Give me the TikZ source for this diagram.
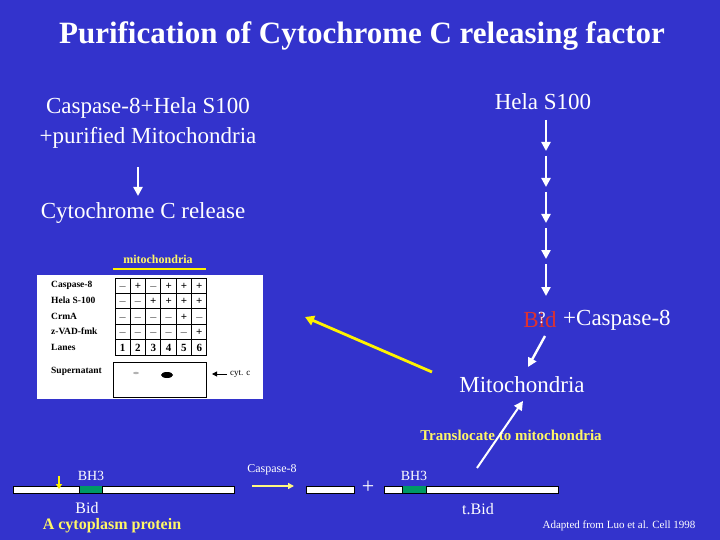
\documentclass[tikz,border=0pt]{standalone}
\usepackage{fontspec}
\setmainfont{Liberation Serif}
\usetikzlibrary{arrows.meta}
\begin{document}
\begin{tikzpicture}[x=1pt,y=-1pt,
  wt/.style={text=white,inner sep=0pt,font=\fontsize{23}{25}\selectfont},
  yt/.style={text=yellow!60!white,inner sep=0pt,font=\bfseries\fontsize{15}{16}\selectfont},
  warr/.style={white,line width=2.4pt,-{Triangle[width=9pt,length=9pt]}},
  gl/.style={inner sep=0pt,font=\bfseries\fontsize{9.5}{10}\selectfont,anchor=west},
  bar/.style={draw=black,fill=white,line width=0.6pt}]
\fill[fill={rgb,255:red,51;green,51;blue,204}] (0,0) rectangle (720,540);
\useasboundingbox (0,0) rectangle (720,540);
\node[text=white,font=\bfseries\fontsize{31}{34}\selectfont,inner sep=0pt] (title) at (362,36) {Purification of Cytochrome C releasing factor};
\node[wt] (l1) at (148,108) {Caspase-8+Hela S100};
\node[wt] (l2) at (148,138) {+purified Mitochondria};
\node[wt] (cr) at (143,213) {Cytochrome C release};
\coordinate (a1) at (138,167); \coordinate (a2) at (138,196);
\draw[warr] (a1) -- (a2);
\node[wt] (hela) at (543,102) {Hela S100};
\foreach \i/\a/\b in {1/120/151,2/156/187,3/192/223,4/228/259,5/264/296}{
  \coordinate (s\i) at (546,\a); \coordinate (e\i) at (546,\b);
  \draw[warr] (s\i) -- (e\i);}
\node[text={rgb,255:red,220;green,50;blue,50},inner sep=0pt,font=\fontsize{23}{25}\selectfont] (bid) at (540,320) {Bid};
\node[text=white,inner sep=0pt,font=\fontsize{17}{18}\selectfont] (q) at (542,318) {?};
\node[wt,anchor=west] (c8) at (563,320) {+Caspase-8};
\node[wt] (mito) at (522,385) {Mitochondria};
\coordinate (b1) at (545,336); \coordinate (b2) at (528,367);
\draw[warr] (b1) -- (b2);
\coordinate (y1) at (432,372); \coordinate (y2) at (305,317);
\draw[yellow,line width=2.8pt,-{Triangle[width=10pt,length=9pt]}] (y1) -- (y2);
\node[yt] (trans) at (511,435) {Translocate to mitochondria};
\coordinate (t1) at (477,468); \coordinate (t2) at (523,401);
\draw[warr,line width=2pt] (t1) -- (t2);
% gel
\node[yt,font=\bfseries\fontsize{12}{12}\selectfont] (mt) at (158,259) {mitochondria};
\draw[yellow,line width=1.8pt] (113,269) -- (206,269);
\fill[white] (37,275) rectangle (263,399);
\foreach \t/\yy in {Caspase-8/285,Hela S-100/300,CrmA/316,z-VAD-fmk/331,Lanes/347}
  \node[gl] at (51,\yy) {\t};
\foreach \yy/\s in {285/{$-$,+,$-$,+,+,+},300/{$-$,$-$,+,+,+,+},316/{$-$,$-$,$-$,$-$,+,$-$},331/{$-$,$-$,$-$,$-$,$-$,+},347/{1,2,3,4,5,6}}{
  \foreach \c [count=\k] in \s {
    \node[inner sep=0pt,anchor=base,font=\bfseries\fontsize{11}{11}\selectfont] at (115+15.33*\k-7.67,\yy+4) {\c};}}
\foreach \k in {0,...,6} \draw[line width=1pt] (115+15.33*\k,278) -- (115+15.33*\k,355);
\foreach \k in {0,...,5} \draw[line width=1pt] (115,278+15.4*\k) -- (207,278+15.4*\k);
\node[gl] at (51,371) {Supernatant};
\draw[line width=0.8pt] (113,362) rectangle (206,397);
\fill[black] (167,375) ellipse (6pt and 3pt);
\fill[gray!60] (136,373) ellipse (3pt and 1.2pt);
\draw[line width=1pt,-{Triangle[width=5pt,length=5pt]}] (227,374) -- (212,374);
\node[inner sep=0pt,font=\fontsize{9}{10}\selectfont,anchor=west] at (230,374) {cyt. c};
% bottom
\draw[bar] (13,486) rectangle (234,493);
\fill[teal!80!green] (79,486.4) rectangle (102,492.6);
\draw[black,line width=0.6pt] (79,486) -- (79,493) (102,486) -- (102,493);
\coordinate (ya) at (59,476); \coordinate (yb) at (59,489);
\draw[yellow,line width=1.4pt,-{Triangle[width=6pt,length=5pt]}] (ya) -- (yb);
\node[text=white,inner sep=0pt,font=\fontsize{14}{14}\selectfont] at (91,476) {BH3};
\node[text=white,inner sep=0pt,font=\fontsize{12}{12}\selectfont] at (272,470) {Caspase-8};
\coordinate (ca) at (252,486); \coordinate (cb) at (294,486);
\draw[yellow!50!white,line width=1.6pt,-{Triangle[width=6pt,length=6pt]}] (ca) -- (cb);
\draw[bar] (306,486) rectangle (354,493);
\node[text=white,inner sep=0pt,font=\fontsize{22}{22}\selectfont] at (368,487) {+};
\draw[bar] (384,486) rectangle (558,493);
\fill[teal!80!green] (402,486.4) rectangle (426,492.6);
\draw[black,line width=0.6pt] (402,486) -- (402,493) (426,486) -- (426,493);
\node[text=white,inner sep=0pt,font=\fontsize{14}{14}\selectfont] at (414,476) {BH3};
\node[text=white,inner sep=0pt,font=\fontsize{16}{16}\selectfont] at (87,508) {Bid};
\node[text=yellow!60!white,inner sep=0pt,font=\bfseries\fontsize{16}{16}\selectfont] at (112,526) {A cytoplasm protein};
\node[text=white,inner sep=0pt,font=\fontsize{16}{16}\selectfont] at (478,509) {t.Bid};
\node[text=white,inner sep=0pt,font=\fontsize{11}{11}\selectfont] at (619,526) {Adapted from Luo et al. Cell 1998};
\end{tikzpicture}
\end{document}
